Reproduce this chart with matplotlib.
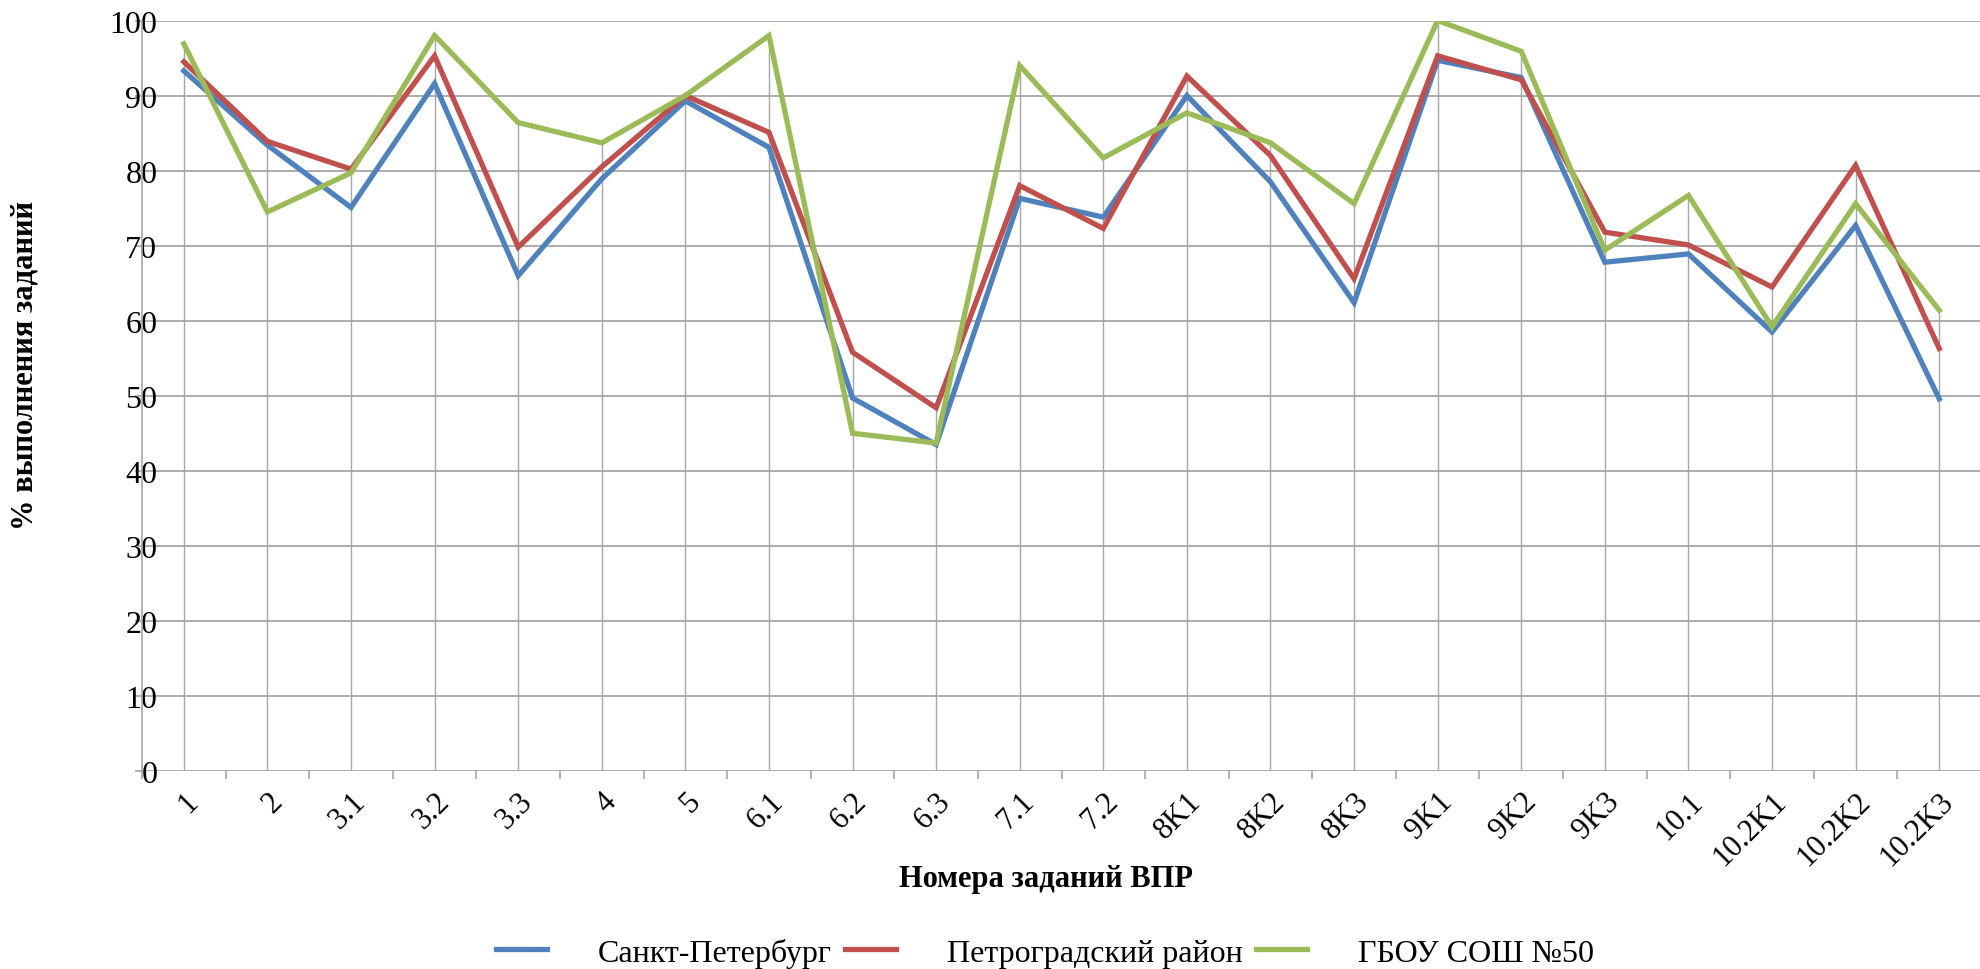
import matplotlib
matplotlib.use("Agg")
import matplotlib.pyplot as plt
import numpy as np

tasks = ["1", "2", "3.1", "3.2", "3.3", "4", "5", "6.1", "6.2", "6.3", "7.1", "7.2",
         "8K1", "8K2", "8K3", "9K1", "9K2", "9K3", "10.1", "10.2K1", "10.2K2", "10.2K3"]

spb = [93.3, 83.4, 75.1, 91.6, 66.0, 78.9, 89.3, 83.1, 49.7, 43.5, 76.3, 73.8,
       90.0, 78.5, 62.4, 94.7, 92.4, 67.8, 68.9, 58.5, 72.7, 49.6]
district = [94.5, 83.9, 80.2, 95.3, 69.8, 80.5, 90.0, 85.1, 55.8, 48.4, 78.0, 72.3,
            92.6, 82.0, 65.6, 95.3, 92.1, 71.8, 70.1, 64.5, 80.7, 56.3]
school = [96.9, 74.5, 79.7, 98.0, 86.4, 83.7, 90.0, 98.0, 45.0, 43.7, 94.0, 81.7,
          87.7, 83.7, 75.6, 100.0, 95.9, 69.4, 76.7, 59.2, 75.6, 61.4]

series_names = ["Санкт-Петербург", "Петроградский район", "ГБОУ СОШ №50"]
colors = ["#4F81BD", "#C0504D", "#9BBB59"]

plt.rcParams['font.family'] = ['Liberation Serif', 'DejaVu Serif']

fig = plt.figure(figsize=(19.81, 9.70), dpi=100)
ax = fig.add_axes([0.0717, 0.2041, 0.9283, 0.7737])

grid_color = "#A6A6A6"
x = np.arange(len(tasks))

# horizontal grid
for v in range(0, 101, 10):
    ax.axhline(v, color=grid_color, lw=1.3, zorder=1)

# drop lines from the highest point down to the axis
top = np.max([spb, district, school], axis=0)
ax.vlines(x, 0, top, color=grid_color, lw=1.0, zorder=1)

lines = []
for vals, c, name in zip([spb, district, school], colors, series_names):
    ln, = ax.plot(x, vals, color=c, lw=3.8, label=name, zorder=3,
                  solid_joinstyle='miter')
    lines.append(ln)

ax.set_xlim(-0.5, len(tasks) - 0.5)
ax.set_ylim(0, 100)

for s in ["top", "right", "bottom"]:
    ax.spines[s].set_visible(False)
ax.spines["left"].set_color(grid_color)
ax.spines["left"].set_linewidth(1.2)

ax.set_yticks(range(0, 101, 10))
ax.tick_params(axis='y', length=5, width=1.2, color=grid_color, labelsize=23, pad=-16)

ax.set_xticks(x)
ax.set_xticks(np.arange(-0.5, len(tasks), 1.0), minor=True)
ax.set_xticklabels(tasks, rotation=45, ha='right', va='top', rotation_mode='anchor')
ax.tick_params(axis='x', which='major', length=0, labelsize=22, pad=11)
ax.tick_params(axis='x', which='minor', length=6, width=1.2, color=grid_color)

fig.text(0.528, 0.093, "Номера заданий ВПР", fontsize=22, fontweight='bold',
         ha='center', va='center')
fig.text(0.0127, 0.623, "% выполнения заданий", fontsize=22, fontweight='bold',
         ha='center', va='center', rotation=90)

fig.legend(handles=lines, loc='center', bbox_to_anchor=(0.5275, 0.017), ncol=3,
           frameon=False, fontsize=23, handlelength=1.6, handletextpad=1.6,
           columnspacing=0.4)

fig.savefig("out.png", dpi=100)
